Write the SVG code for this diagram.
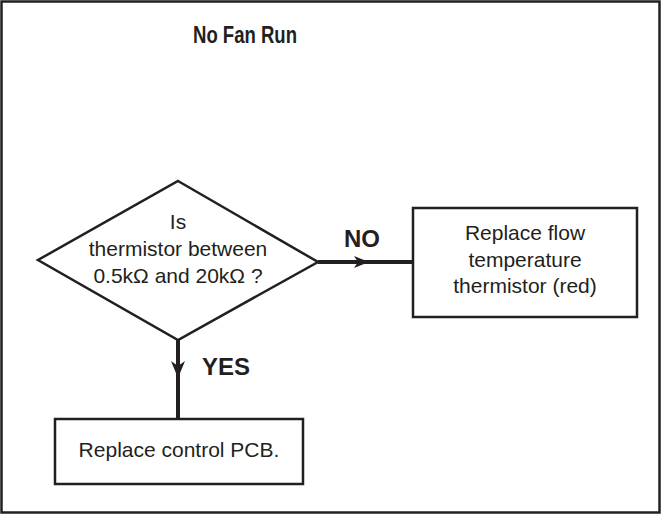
<svg xmlns="http://www.w3.org/2000/svg" width="661" height="514" viewBox="0 0 661 514">
<style>
.shape{fill:#fff;stroke:#231f20;stroke-width:2.5}
.t{font-family:"Liberation Sans",Arial,sans-serif;font-size:21px;fill:#231f20;text-anchor:middle}
.b{font-family:"Liberation Sans",Arial,sans-serif;font-weight:bold;font-size:24px;fill:#231f20}
.conn{stroke:#231f20;stroke-width:4;fill:none}
.head{fill:#231f20}
</style>
<rect x="1.5" y="1.5" width="658" height="511" fill="#fff" stroke="#231f20" stroke-width="2.5"/>
<g id="title"><text class="b" x="245" y="43" text-anchor="middle" font-size="22" textLength="104" lengthAdjust="spacingAndGlyphs">No Fan Run</text></g>
<g id="decision">
<polygon class="shape" points="178,181 318,262 178,340 38,260"/>
<text class="t" x="178" y="229">Is</text>
<text class="t" x="178" y="256">thermistor between</text>
<text class="t" x="178" y="283">0.5kΩ and 20kΩ ?</text>
</g>
<g id="replace-thermistor">
<rect class="shape" x="413" y="208" width="224" height="109"/>
<text class="t" x="525" y="240">Replace flow</text>
<text class="t" x="525" y="267">temperature</text>
<text class="t" x="525" y="293">thermistor (red)</text>
</g>
<g id="replace-pcb">
<rect class="shape" x="55" y="419" width="248" height="65"/>
<text class="t" x="179" y="457">Replace control PCB.</text>
</g>
<g id="connectors">
<line class="conn" x1="318" y1="262" x2="413" y2="262"/>
<path class="head" d="M369,262 L354,256 L358,262 L354,268 Z"/>
<text class="b" x="362" y="247" text-anchor="middle" font-size="23">NO</text>
<line class="conn" x1="178" y1="340" x2="178" y2="419"/>
<path class="head" d="M178,378 L171,361 L178,366 L185,361 Z"/>
<text class="b" x="202" y="375">YES</text>
</g>
</svg>
